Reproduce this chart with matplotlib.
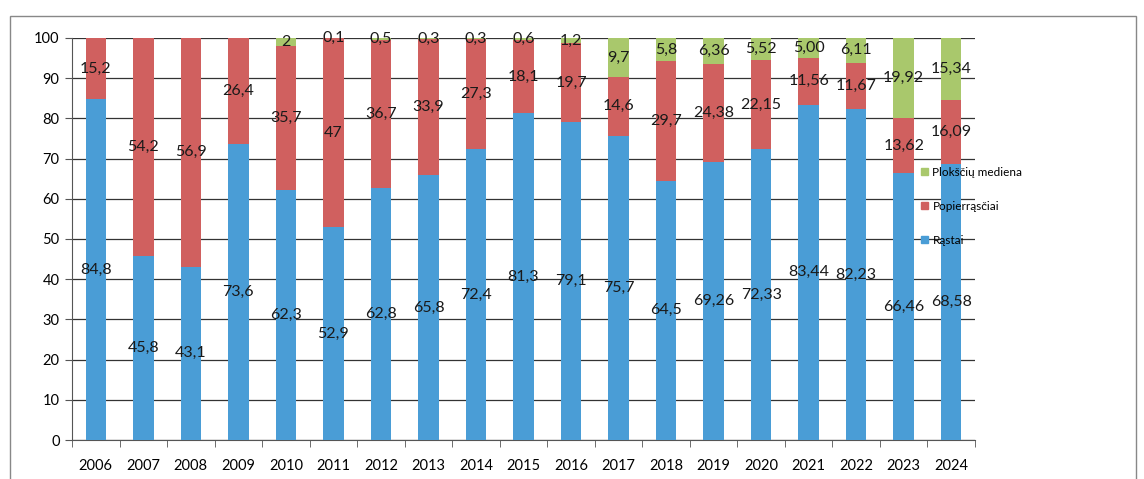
import matplotlib.pyplot as plt
from matplotlib.patches import Rectangle, Patch

years = ['2006', '2007', '2008', '2009', '2010', '2011', '2012', '2013', '2014', '2015',
         '2016', '2017', '2018', '2019', '2020', '2021', '2022', '2023', '2024']

# reiksmes kaip uzrasytos diagramoje (kablelis - desimtainis skyriklis)
rastai_txt = ['84,8', '45,8', '43,1', '73,6', '62,3', '52,9', '62,8', '65,8', '72,4', '81,3',
              '79,1', '75,7', '64,5', '69,26', '72,33', '83,44', '82,23', '66,46', '68,58']
popier_txt = ['15,2', '54,2', '56,9', '26,4', '35,7', '47', '36,7', '33,9', '27,3', '18,1',
              '19,7', '14,6', '29,7', '24,38', '22,15', '11,56', '11,67', '13,62', '16,09']
plokst_txt = ['0', '0', '0', '0', '2', '0,1', '0,5', '0,3', '0,3', '0,6',
              '1,2', '9,7', '5,8', '6,36', '5,52', '5,00', '6,11', '19,92', '15,34']

series_names = ['Rąstai', 'Popierrąsčiai', 'Plokščių mediena']
colors = ['#4a9dd6', '#d0605f', '#a9c86c']


def to_num(lst):
    return [float(s.replace(',', '.')) for s in lst]


rastai = to_num(rastai_txt)
popier = to_num(popier_txt)
plokst = to_num(plokst_txt)

plt.rcParams['font.family'] = ['Lato', 'DejaVu Sans']

fig = plt.figure(figsize=(11.44, 4.79), dpi=100)
ax = fig.add_axes([72 / 1144, 1 - 440 / 479, (975 - 72) / 1144, (440 - 38) / 479])

x = range(len(years))
bottom = [0] * len(years)
for vals, txt, col in zip([rastai, popier, plokst], [rastai_txt, popier_txt, plokst_txt], colors):
    ax.bar(x, vals, width=0.43, bottom=bottom, color=col, zorder=3)
    for i in x:
        if vals[i] > 0:
            ax.text(i, bottom[i] + vals[i] / 2, txt[i], ha='center', va='center',
                    fontsize=11.5, color='#1a1a1a', zorder=4)
    bottom = [b + v for b, v in zip(bottom, vals)]

ax.set_xlim(-0.5, len(years) - 0.5)
ax.set_ylim(0, 100)
ax.set_yticks(range(0, 101, 10))
ax.set_xticks(list(x))
ax.set_xticklabels(years)
ax.set_xticks([i - 0.5 for i in range(len(years) + 1)], minor=True)
ax.tick_params(axis='x', which='major', length=0, pad=14, labelsize=10.5)
ax.tick_params(axis='x', which='minor', length=5, direction='out', color='#555555')
ax.tick_params(axis='y', length=5, direction='out', color='#555555', labelsize=10.5, pad=4)
ax.yaxis.grid(True, color='#333333', linewidth=0.9, zorder=0)
ax.set_axisbelow(True)
for s in ['top', 'right']:
    ax.spines[s].set_visible(False)
for s in ['left', 'bottom']:
    ax.spines[s].set_color('#555555')

handles = [Patch(color=c) for c in colors][::-1]
fig.legend(handles, series_names[::-1], loc='upper left', bbox_to_anchor=(910 / 1144, 1 - 156 / 479),
           frameon=False, fontsize=8.5, handlelength=0.6, handleheight=0.6, handletextpad=0.4,
           labelspacing=1.95)

fig.patches.append(Rectangle((10 / 1144, -0.02), 1126 / 1144, 0.02 + 1 - 16 / 479,
                             transform=fig.transFigure, fill=False, edgecolor='#888888', linewidth=1))

fig.savefig('out.png', dpi=100)
